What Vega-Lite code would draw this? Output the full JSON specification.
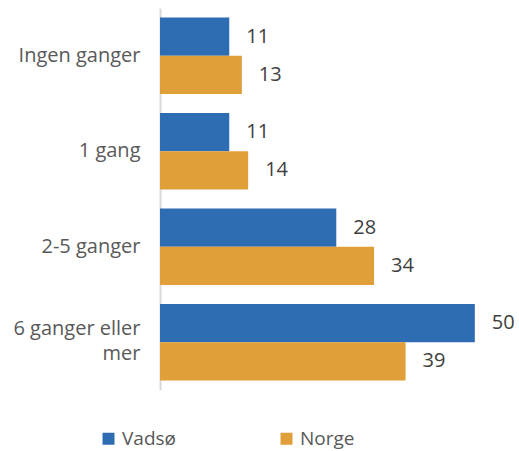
{
  "$schema": "https://vega.github.io/schema/vega-lite/v6.json",
  "autosize": "none",
  "width": 340,
  "height": 382,
  "padding": {"left": 160, "top": 8, "right": 19, "bottom": 61},
  "config": {"view": {"stroke": null}, "font": "Open Sans"},
  "data": {"values": [
    {"kategori": "Ingen ganger", "serie": "Vadsø", "verdi": 11},
    {"kategori": "Ingen ganger", "serie": "Norge", "verdi": 13},
    {"kategori": "1 gang", "serie": "Vadsø", "verdi": 11},
    {"kategori": "1 gang", "serie": "Norge", "verdi": 14},
    {"kategori": "2-5 ganger", "serie": "Vadsø", "verdi": 28},
    {"kategori": "2-5 ganger", "serie": "Norge", "verdi": 34},
    {"kategori": "6 ganger eller mer", "serie": "Vadsø", "verdi": 50},
    {"kategori": "6 ganger eller mer", "serie": "Norge", "verdi": 39}
  ]},
  "encoding": {
    "y": {"field": "kategori", "type": "nominal", "sort": ["Ingen ganger", "1 gang", "2-5 ganger", "6 ganger eller mer"],
      "scale": {"paddingInner": 0.2, "paddingOuter": 0.1},
      "axis": {"title": null, "ticks": false, "domainColor": "#D9D9D9", "domainWidth": 2, "labelFontSize": 20, "labelColor": "#595959", "labelPadding": 20, "labelLimit": 200,
        "labelExpr": "datum.value == '6 ganger eller mer' ? ['6 ganger eller', 'mer'] : datum.value", "labelLineHeight": 25,
        "labelOffset": {"condition": {"test": "datum.value == '6 ganger eller mer'", "value": -13}, "value": 0}}},
    "yOffset": {"field": "serie", "type": "nominal", "sort": ["Vadsø", "Norge"], "scale": {"paddingInner": 0, "paddingOuter": 0}},
    "x": {"field": "verdi", "type": "quantitative", "scale": {"domain": [0, 54], "nice": false}, "axis": null}
  },
  "layer": [
    {"mark": {"type": "bar"},
     "encoding": {"color": {"field": "serie", "type": "nominal", "sort": ["Vadsø", "Norge"],
        "scale": {"domain": ["Vadsø", "Norge"], "range": ["#2E6DB4", "#E09F38"]},
        "legend": {"title": null, "orient": "none", "legendX": -61, "legendY": 421, "direction": "horizontal", "symbolType": "square", "symbolSize": 144, "symbolStrokeWidth": 0, "labelFontSize": 19, "labelColor": "#595959", "labelOffset": 4, "columnPadding": 101}}}},
    {"mark": {"type": "text", "align": "left", "baseline": "middle", "dx": 17, "fontSize": 20, "color": "#404040"},
     "encoding": {"text": {"field": "verdi", "type": "quantitative"}}}
  ]
}
